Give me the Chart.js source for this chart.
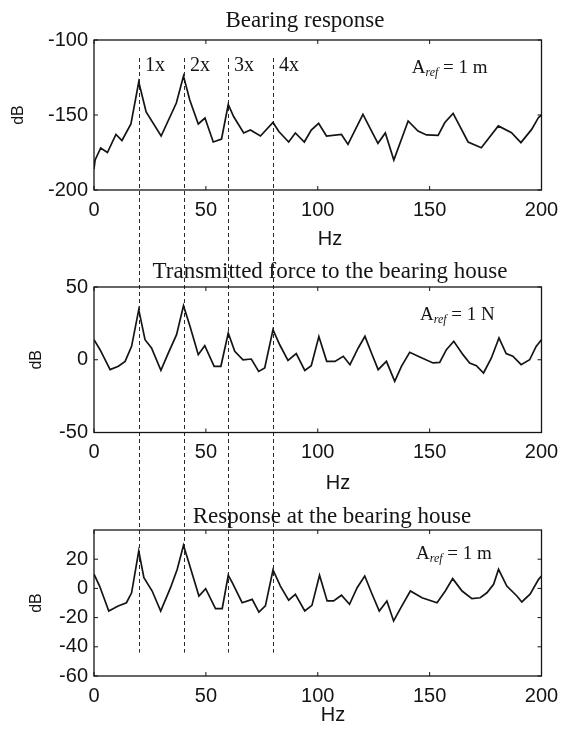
<!DOCTYPE html>
<html><head><meta charset="utf-8">
<script src="https://cdn.jsdelivr.net/npm/chart.js@4.4.1/dist/chart.umd.min.js"></script>
<style>
html,body{margin:0;padding:0;background:#fff;}
#wrap{position:relative;width:567px;height:736px;overflow:hidden;background:#fff;}
canvas{position:absolute;left:0;}
</style></head><body>
<div id="wrap">
<canvas id="c1" width="567" height="250" style="top:0px"></canvas>
<canvas id="c2" width="567" height="245" style="top:250px"></canvas>
<canvas id="c3" width="567" height="241" style="top:495px"></canvas>
</div>
<script>
// ---------- data ----------
const xTickValues = [0, 50, 100, 150, 200];
const harmonicHz = [20, 40, 60, 80];
const harmonicLabels = ['1x', '2x', '3x', '4x'];
const panelTitles = ['Bearing response', 'Transmitted force to the bearing house', 'Response at the bearing house'];
const refUnits = ['1 m', '1 N', '1 m'];

const yTicksBearing = [-200, -150, -100];
const yTicksForce = [-50, 0, 50];
const yTicksHouse = [-60, -40, -20, 0, 20];

const freqBearing = [0, 0.5, 3, 6, 9.8, 12.5, 16.5, 20, 21, 23.3, 30, 36.8, 40, 42.8, 46.6, 49.6, 53.3, 57, 60, 62.4, 66.9, 69.9, 74.4, 80, 82.6, 87, 90, 94, 97.1, 100.4, 103.9, 110.6, 113.5, 120.2, 126.9, 130.2, 134, 140.4, 144.8, 148.6, 153.8, 156.8, 160.5, 167.2, 173.1, 180.7, 186.6, 190.8, 195.6, 198.6, 200];
const dbBearing = [-186, -180, -172, -175, -163, -167, -156, -128, -134, -148, -164, -142, -124, -140, -156, -152, -168, -166, -143, -151, -162, -160, -164, -155, -161, -168, -162, -168, -160, -155.6, -164, -163, -169.6, -149.6, -168.9, -162, -180, -154, -160.7, -163.3, -163.6, -155, -148.9, -168, -171.8, -157.3, -161.8, -168.4, -159.6, -151.8, -150];

const freqForce = [0, 2.7, 7.2, 10.9, 13.9, 16.8, 20, 22.8, 25.7, 29.9, 33.2, 36.9, 40, 42.9, 46.6, 49.5, 53.7, 56.7, 60, 62.9, 66.6, 70.3, 73.6, 76.3, 80, 83, 86.7, 90.4, 94.2, 97.1, 100.5, 104, 107.7, 111.4, 114.4, 118.1, 121.1, 124, 127, 130.7, 134.4, 137.4, 141.1, 145.6, 151.5, 154.5, 157.5, 160.8, 164.9, 167.9, 170.9, 174.1, 177.6, 181, 184.2, 187.2, 190.9, 194.7, 197.6, 200];
const dbForce = [13.8, 6.9, -6.8, -4.5, -1.1, 9.2, 34.4, 13.8, 8.1, -7.3, 4.6, 17.2, 37.2, 23, 3.5, 9.7, -4.5, -4.5, 18.4, 5.8, 0, 0.5, -8, -5.7, 20.7, 10.3, -0.4, 4.2, -7.3, -4.1, 16, -1.1, -1.1, 2.4, -3.4, 8.1, 16.1, 4.6, -6.8, -1.1, -14.8, -4.5, 5.1, 1.9, -2.2, -1.8, 6.9, 12.7, 3.5, -2.2, -4.1, -9.1, 1.2, 15, 4.2, 2.4, -3.4, 0, 9.2, 13.8];

const freqHouse = [0, 2.5, 6.6, 10.8, 14.5, 16.8, 20, 22.3, 26, 29.8, 34.2, 37.2, 40, 42.4, 46.9, 49.9, 54.3, 57.3, 60, 61.8, 66.2, 70.7, 73.7, 76.6, 80, 83.3, 87, 90, 94.2, 97.4, 100.8, 104.2, 107.1, 110.6, 114.2, 117.6, 121, 124.3, 127.5, 130.9, 133.9, 137.6, 141.4, 146.6, 153.3, 157, 160.3, 164.5, 168.9, 172.6, 175.6, 178.6, 180.8, 184.5, 189, 191.2, 194.9, 198.7, 200];
const dbHouse = [9.7, 1.6, -15.5, -12, -9.8, -3, 25.6, 7.3, -1.8, -15.5, 0.5, 13.1, 29.5, 17.6, -5.2, -0.2, -13.9, -13.9, 9, 3.9, -9.8, -7.5, -16.2, -12, 12.6, 1.6, -8, -4, -15.5, -11.6, 9, -8.6, -8.6, -4.7, -10.9, 0.5, 8.5, -4, -15.5, -8.6, -22.3, -12, -1.8, -6.4, -9.8, -1.8, 6.7, -1.8, -7, -6.4, -3, 2.8, 13.1, 1.6, -5.2, -9.3, -4, 6.2, 8.5];

// ---------- fonts ----------
function fontAvailable(name) {
  const ctx = document.createElement('canvas').getContext('2d');
  const s = 'mmmmmwwwwlli0123456789HzdB';
  ctx.font = '40px monospace'; const a = ctx.measureText(s).width;
  ctx.font = '40px "' + name + '", monospace'; const b = ctx.measureText(s).width;
  return Math.abs(a - b) > 0.5;
}
const HAS_NARROW = fontAvailable('Liberation Sans Narrow');
const SANS = HAS_NARROW ? '"Liberation Sans Narrow", "Liberation Sans", sans-serif' : '"Liberation Sans", Arial, sans-serif';
const TICK_SIZE = HAS_NARROW ? 22 : 20;
const HZ_SIZE = HAS_NARROW ? 22 : 20;
const DB_SIZE = HAS_NARROW ? 18 : 16;
const SERIF = '"Liberation Serif", "Times New Roman", serif';

// ---------- layout ----------
const AREA_LEFT = 94;
const AREA_RIGHT = 541.5;
const INK = '#141414';

function decorPlugin(cfg) {
  return {
    id: 'decor' + cfg.key,
    beforeDatasetsDraw(chart) {
      const { ctx, chartArea: a } = chart;
      const xs = chart.scales.x, ys = chart.scales.y;
      ctx.save();
      // harmonic dashed lines
      ctx.strokeStyle = '#2a2a2a';
      ctx.lineWidth = 1;
      ctx.setLineDash([4, 3]);
      const yA = cfg.dashTop === null ? 0 : ys.getPixelForValue(cfg.dashTop);
      const yB = cfg.dashBottom === null ? chart.height : ys.getPixelForValue(cfg.dashBottom);
      harmonicHz.forEach(h => {
        const px = Math.round(xs.getPixelForValue(h)) + 0.5;
        ctx.beginPath(); ctx.moveTo(px, yA); ctx.lineTo(px, yB); ctx.stroke();
      });
      ctx.setLineDash([]);
      // frame
      ctx.strokeStyle = INK;
      ctx.lineWidth = 1.3;
      ctx.strokeRect(a.left, a.top, a.right - a.left, a.bottom - a.top);
      // inward tick marks
      ctx.lineWidth = 1;
      const TL = 4;
      xTickValues.forEach(v => {
        const px = xs.getPixelForValue(v);
        ctx.beginPath();
        ctx.moveTo(px, a.bottom); ctx.lineTo(px, a.bottom - TL);
        ctx.moveTo(px, a.top); ctx.lineTo(px, a.top + TL);
        ctx.stroke();
      });
      cfg.yTicks.forEach(v => {
        const py = ys.getPixelForValue(v);
        ctx.beginPath();
        ctx.moveTo(a.left, py); ctx.lineTo(a.left + TL, py);
        ctx.moveTo(a.right, py); ctx.lineTo(a.right - TL, py);
        ctx.stroke();
      });
      ctx.restore();
    },
    afterDraw(chart) {
      const { ctx } = chart;
      const xs = chart.scales.x, ys = chart.scales.y;
      ctx.save();
      ctx.fillStyle = INK;
      // panel title
      ctx.font = '23px ' + SERIF;
      ctx.textAlign = 'center';
      ctx.textBaseline = 'alphabetic';
      ctx.fillText(cfg.title, cfg.titleX, cfg.titleY);
      // x axis title
      ctx.font = HZ_SIZE + 'px ' + SANS;
      ctx.textBaseline = 'middle';
      ctx.fillText('Hz', cfg.hzX, cfg.hzY);
      // reference annotation
      let px = xs.getPixelForValue(cfg.refHz);
      const py = ys.getPixelForValue(cfg.refDb);
      ctx.textAlign = 'left';
      ctx.textBaseline = 'alphabetic';
      ctx.font = '19px ' + SERIF;
      ctx.fillText('A', px, py); px += ctx.measureText('A').width;
      ctx.font = 'italic 12px ' + SERIF;
      ctx.fillText('ref', px, py + 3); px += ctx.measureText('ref').width;
      ctx.font = '19px ' + SERIF;
      ctx.fillText(' = ' + cfg.refUnit, px, py);
      // harmonic labels
      if (cfg.harmonicLabelDb !== null) {
        ctx.font = '20px ' + SERIF;
        const ly = ys.getPixelForValue(cfg.harmonicLabelDb);
        harmonicHz.forEach((h, i) => {
          ctx.fillText(harmonicLabels[i], Math.round(xs.getPixelForValue(h)) + 6, ly);
        });
      }
      ctx.restore();
    }
  };
}

function makeChart(cfg) {
  const canvas = document.getElementById(cfg.canvas);
  const H = canvas.height;
  return new Chart(canvas, {
    type: 'line',
    data: {
      datasets: [{
        data: cfg.freq.map((f, i) => ({ x: f, y: cfg.db[i] })),
        borderColor: INK,
        borderWidth: 1.7,
        pointRadius: 0,
        tension: 0,
        fill: false
      }]
    },
    options: {
      responsive: false,
      animation: false,
      devicePixelRatio: 1,
      layout: { padding: { top: cfg.areaTop, right: 567 - AREA_RIGHT, bottom: 0, left: 0 } },
      plugins: { legend: { display: false }, tooltip: { enabled: false }, title: { display: false } },
      scales: {
        x: {
          type: 'linear', min: 0, max: 200,
          afterBuildTicks: s => { s.ticks = xTickValues.map(v => ({ value: v })); },
          afterFit: s => { s.height = H - cfg.areaBottom; },
          grid: { display: false, drawTicks: false },
          border: { display: false },
          ticks: { color: INK, font: { family: SANS, size: TICK_SIZE }, padding: cfg.xPad, maxRotation: 0, autoSkip: false }
        },
        y: {
          type: 'linear', min: cfg.yMin, max: cfg.yMax,
          afterBuildTicks: s => { s.ticks = cfg.yTicks.map(v => ({ value: v })); },
          afterFit: s => { s.width = AREA_LEFT; },
          grid: { display: false, drawTicks: false },
          border: { display: false },
          ticks: { color: INK, font: { family: SANS, size: TICK_SIZE }, padding: 6, autoSkip: false },
          title: { display: true, text: 'dB', color: INK, font: { family: SANS, size: DB_SIZE, lineHeight: 1 }, padding: { top: cfg.dbPad, bottom: 0 } }
        }
      }
    },
    plugins: [decorPlugin(cfg)]
  });
}

makeChart({
  key: 1, canvas: 'c1', freq: freqBearing, db: dbBearing,
  yMin: -200, yMax: -100, yTicks: yTicksBearing,
  areaTop: 40, areaBottom: 190, xPad: 8, dbPad: 10.5,
  title: panelTitles[0], titleX: 305, titleY: 27,
  hzX: 330, hzY: 239,
  refHz: 142, refDb: -122, refUnit: refUnits[0],
  dashTop: -112, dashBottom: null, harmonicLabelDb: -120.7
});
makeChart({
  key: 2, canvas: 'c2', freq: freqForce, db: dbForce,
  yMin: -50, yMax: 50, yTicks: yTicksForce,
  areaTop: 37, areaBottom: 182.5, xPad: 8, dbPad: 28.5,
  title: panelTitles[1], titleX: 330, titleY: 28,
  hzX: 338, hzY: 233,
  refHz: 145.7, refDb: 27.3, refUnit: refUnits[1],
  dashTop: null, dashBottom: null, harmonicLabelDb: null
});
makeChart({
  key: 3, canvas: 'c3', freq: freqHouse, db: dbHouse,
  yMin: -60, yMax: 40, yTicks: yTicksHouse,
  areaTop: 35, areaBottom: 181, xPad: 8, dbPad: 29,
  title: panelTitles[2], titleX: 332, titleY: 28,
  hzX: 333, hzY: 220,
  refHz: 143.9, refDb: 20.1, refUnit: refUnits[2],
  dashTop: null, dashBottom: -44, harmonicLabelDb: null
});
</script>
</body></html>
